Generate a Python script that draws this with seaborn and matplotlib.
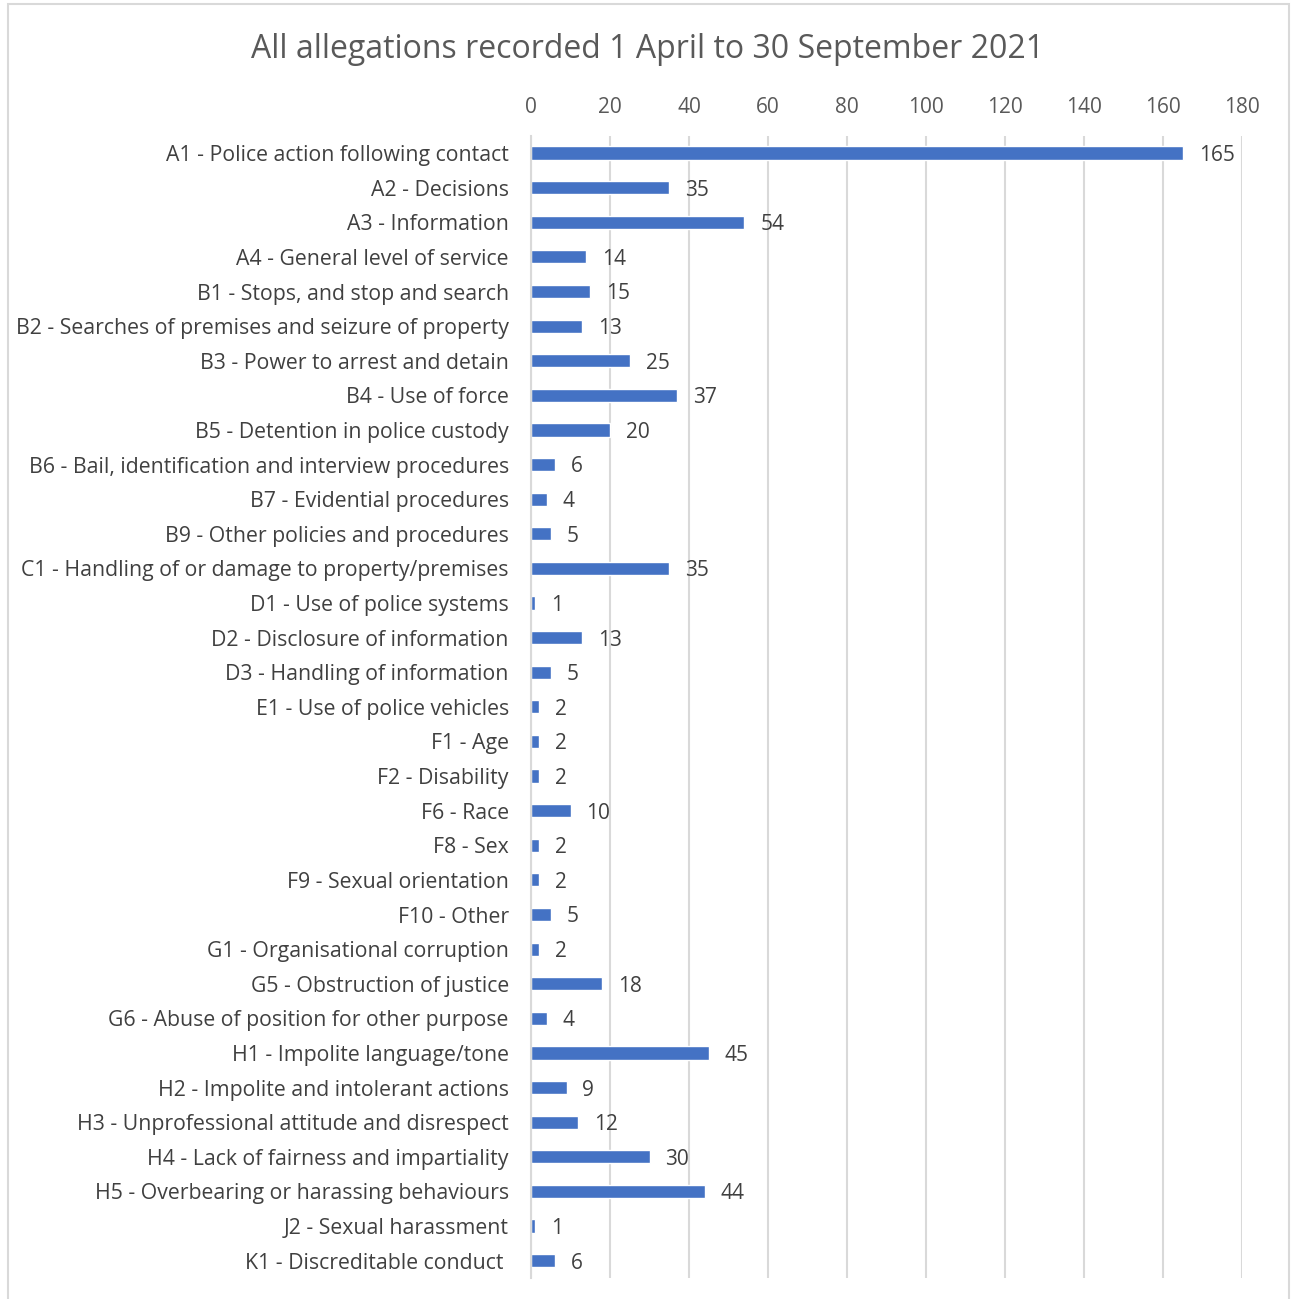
import pandas as pd
import seaborn as sns
import matplotlib.pyplot as plt

# allegation categories and counts, top to bottom as in the chart
categories = [
    "A1 - Police action following contact",
    "A2 - Decisions",
    "A3 - Information",
    "A4 - General level of service",
    "B1 - Stops, and stop and search",
    "B2 - Searches of premises and seizure of property",
    "B3 - Power to arrest and detain",
    "B4 - Use of force",
    "B5 - Detention in police custody",
    "B6 - Bail, identification and interview procedures",
    "B7 - Evidential procedures",
    "B9 - Other policies and procedures",
    "C1 - Handling of or damage to property/premises",
    "D1 - Use of police systems",
    "D2 - Disclosure of information",
    "D3 - Handling of information",
    "E1 - Use of police vehicles",
    "F1 - Age",
    "F2 - Disability",
    "F6 - Race",
    "F8 - Sex",
    "F9 - Sexual orientation",
    "F10 - Other",
    "G1 - Organisational corruption",
    "G5 - Obstruction of justice",
    "G6 - Abuse of position for other purpose",
    "H1 - Impolite language/tone",
    "H2 - Impolite and intolerant actions",
    "H3 - Unprofessional attitude and disrespect",
    "H4 - Lack of fairness and impartiality",
    "H5 - Overbearing or harassing behaviours",
    "J2 - Sexual harassment",
    "K1 - Discreditable conduct ",
]
counts = [165, 35, 54, 14, 15, 13, 25, 37, 20, 6, 4, 5, 35, 1, 13, 5, 2, 2, 2,
          10, 2, 2, 5, 2, 18, 4, 45, 9, 12, 30, 44, 1, 6]
x_ticks = list(range(0, 181, 20))

df = pd.DataFrame({"Allegation": categories, "Count": counts})

sns.set_style("white")
plt.rcParams['font.family'] = ['Open Sans', 'DejaVu Sans']

fig = plt.figure(figsize=(12.93, 12.99), dpi=100)
ax = fig.add_axes([0.4107, 0.0162, 0.5499, 0.8793])

sns.barplot(data=df, x="Count", y="Allegation", color="#4472C4", width=0.38,
            saturation=1, ax=ax)

for i, v in enumerate(counts):
    ax.text(v + 4, i + 0.07, str(v), va="center", ha="left", fontsize=15,
            color="#404040")

ax.set_xlim(0, 180)
ax.set_xticks(x_ticks)
ax.xaxis.tick_top()
ax.tick_params(axis="x", length=0, labelsize=15, labelcolor="#595959", pad=13)
ax.tick_params(axis="y", length=0, labelsize=15.3, labelcolor="#404040", pad=16)
ax.grid(axis="x", color="#D9D9D9", linewidth=1.5)
ax.set_axisbelow(True)
ax.set_xlabel("")
ax.set_ylabel("")
for s in ["top", "right", "bottom"]:
    ax.spines[s].set_visible(False)
ax.spines["left"].set_color("#D9D9D9")
ax.spines["left"].set_linewidth(1.5)

fig.text(0.501, 0.962, "All allegations recorded 1 April to 30 September 2021",
         ha="center", va="center", fontsize=23, color="#595959")

# light outer chart border
border = plt.Rectangle((0.006, -0.01), 0.991, 1.007, transform=fig.transFigure,
                       fill=False, edgecolor="#D9D9D9", linewidth=1.5)
fig.patches.append(border)

fig.savefig("out.png", dpi=100)
